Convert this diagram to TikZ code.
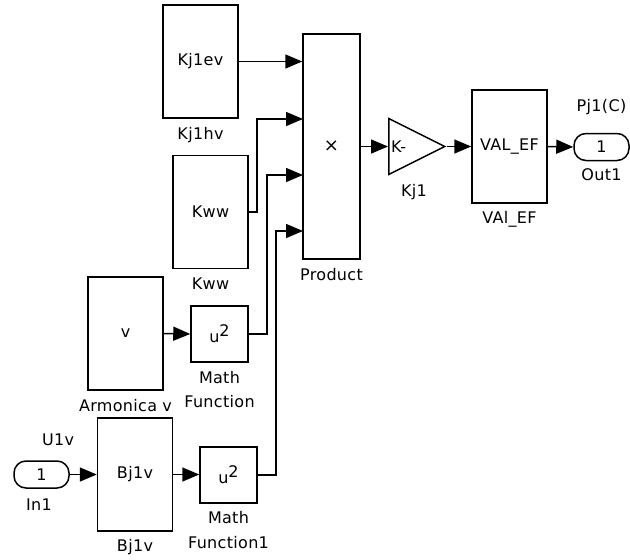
\documentclass[tikz,border=0pt]{standalone}
\usepackage{fontspec}
\setmainfont{DejaVu Sans}[LetterSpace=2]
\usetikzlibrary{arrows.meta,shapes.geometric}
\newcommand{\fsz}{\fontsize{16pt}{18pt}\selectfont}
\begin{document}
\begin{tikzpicture}[x=1pt,y=-1pt,
  blk/.style={draw, line width=1.5pt, inner sep=0pt, font=\fsz},
  big/.style={blk, minimum width=75pt, minimum height=113pt},
  small/.style={blk, minimum width=57pt, minimum height=56pt},
  port/.style={draw, line width=1.5pt, rounded corners=12pt, minimum width=55pt, minimum height=27pt, inner sep=0pt, font=\fsz},
  lbl/.style={inner sep=0pt, font=\fsz},
  wire/.style={line width=1.5pt, -{Triangle[length=17pt,width=14pt]}}]
\useasboundingbox (0,0) rectangle (630,560);
% blocks
\node[big] (kj1ev) at (200.5,61.5) {Kj1ev};
\node[lbl] (kj1evl) at (200.5,135) {Kj1hv};
\node[big] (kww) at (210.5,212) {Kww};
\node[lbl] (kwwl) at (210.5,284) {Kww};
\node[big] (arm) at (125.5,333.5) {v};
\node[lbl] (arml) at (125.5,406) {Armonica v};
\node[small] (mf) at (219.5,334) {u\raisebox{6pt}{2}};
\node[lbl] (mfl1) at (219.5,378) {Math};
\node[lbl] (mfl2) at (219.5,402) {Function};
\node[blk, minimum width=57pt, minimum height=225pt] (prod) at (331.5,146.5) {\fontsize{18pt}{20pt}\selectfont ×};
\node[lbl] (prodl) at (331.5,275) {Product};
\node[draw, line width=1.5pt, isosceles triangle, isosceles triangle stretches=true, shape border rotate=0, minimum width=56pt, minimum height=56pt, inner sep=0pt, anchor=west] (gain) at (388,146.5) {};
\node[lbl, anchor=west] (gaink) at (391,146.5) {K-};
\node[lbl] (gainl) at (414,192) {Kj1};
\node[big] (val) at (509.5,146.5) {VAL\_EF};
\node[lbl] (vall) at (509.5,219) {VAl\_EF};
\node[port] (out) at (601.5,147) {1};
\node[lbl] (outa) at (601.5,107) {Pj1(C)};
\node[lbl] (outb) at (601.5,175) {Out1};
\node[port] (in) at (41.5,474.5) {1};
\node[lbl] (ina) at (58,440) {U1v};
\node[lbl] (inb) at (39,505) {In1};
\node[big] (bj) at (135,474.5) {Bj1v};
\node[lbl] (bjl) at (135,547) {Bj1v};
\node[small] (mf1) at (228.5,475) {u\raisebox{6pt}{2}};
\node[lbl] (mf1l1) at (228.5,518) {Math};
\node[lbl] (mf1l2) at (228.5,543) {Function1};
% product inputs
\coordinate (p1) at (prod.west |- kj1ev.east);
\coordinate (p2) at (303,119);
\coordinate (p3) at (303,175);
\coordinate (p4) at (303,231);
\coordinate (b2) at (257,0);
\coordinate (b3) at (267,0);
\coordinate (b4) at (276,0);
% wires
\draw[wire] (kj1ev.east) -- (p1);
\draw[wire] (kww.east) -- (kww.east -| b2) -- (b2 |- p2) -- (p2);
\draw[wire] (mf.east) -- (mf.east -| b3) -- (b3 |- p3) -- (p3);
\draw[wire] (mf1.east) -- (mf1.east -| b4) -- (b4 |- p4) -- (p4);
\draw[wire] (arm.east) -- (mf.west);
\draw[wire] (in.east) -- (in.east -| bj.west);
\draw[wire] (bj.east) -- (bj.east -| mf1.west);
\draw[wire] (prod.east) -- (gain.west);
\draw[wire] (gain.apex) -- (val.west);
\draw[wire] (val.east) -- (out.west);
\end{tikzpicture}
\end{document}
